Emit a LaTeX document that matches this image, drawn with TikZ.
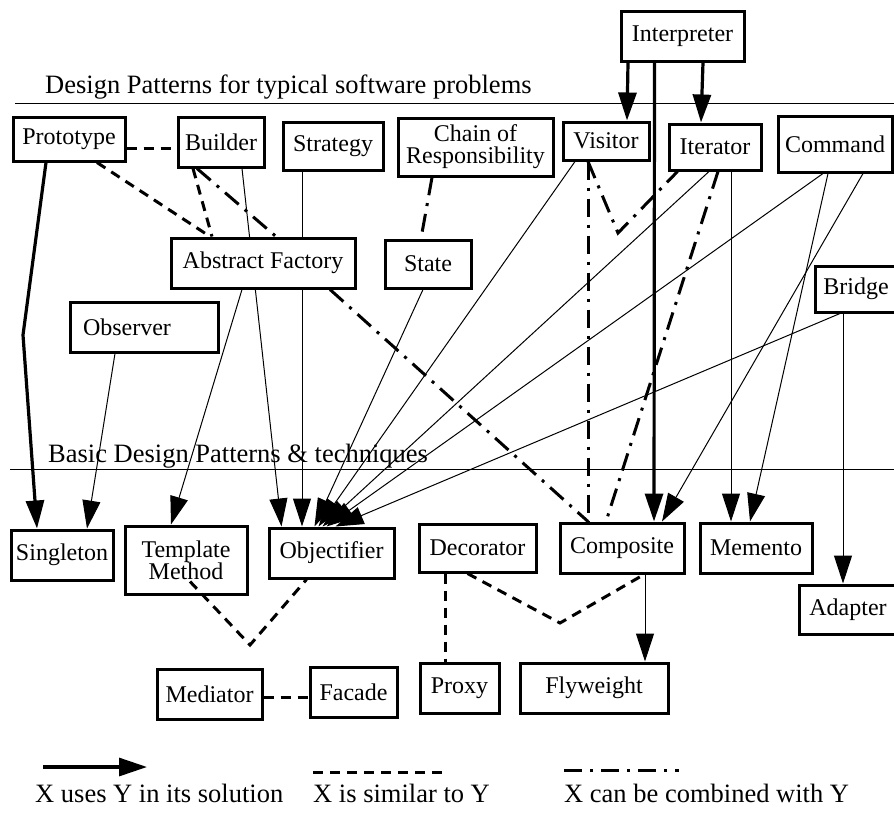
\documentclass[tikz,border=0pt]{standalone}
\usepackage{fontspec}
\setmainfont{Liberation Serif}
\usetikzlibrary{arrows.meta,calc}
\pgfdeclarelayer{bg}
\pgfsetlayers{bg,main}

\begin{document}
\begin{tikzpicture}[x=1pt,y=-1pt,>={Triangle[length=28pt,width=18pt]},
  patbox/.style={draw,line width=3pt,fill=white,align=center,inner sep=2pt,
    font=\fontsize{24}{22}\selectfont},
  usesthin/.style={->,line width=1pt},
  usesthick/.style={->,line width=3.2pt},
  simline/.style={line width=3pt,dash pattern=on 10pt off 7pt},
  combline/.style={line width=3pt,dash pattern=on 18pt off 8pt on 3pt off 8pt},
  sectitle/.style={anchor=base west,inner sep=0pt,font=\fontsize{26.5}{28}\selectfont}]

\useasboundingbox (0,0) rectangle (894,812);

\node[sectitle] (toptitle) at (45,93) {Design Patterns for typical software problems};
\draw[line width=1pt] (15,103) -- (894,103);
\node[sectitle] (basetitle) at (48,462) {Basic Design Patterns \& techniques};
\draw[line width=1pt] (10,469) -- (894,469);

\node[patbox,minimum width=123,minimum height=50] (interp) at (682.5,36) {Interpreter};
\node[patbox,minimum width=112,minimum height=44] (proto) at (69,139) {Prototype};
\node[patbox,minimum width=86,minimum height=50] (build) at (221,142) {Builder};
\node[patbox,minimum width=100,minimum height=48] (strat) at (333,146) {Strategy};
\node[patbox,minimum width=155,minimum height=58] (chain) at (475.5,147) {Chain of\\Responsibility};
\node[patbox,minimum width=86,minimum height=38] (vis) at (606,141) {Visitor};
\node[patbox,minimum width=92,minimum height=46] (iter) at (715,147) {Iterator};
\node[patbox,minimum width=114,minimum height=56] (cmd) at (835,144) {Command};
\node[patbox,minimum width=184,minimum height=50] (absf) at (263,263) {Abstract Factory};
\node[patbox,minimum width=86,minimum height=48] (state) at (428,264) {State};
\node[patbox,text width=122,align=left,inner xsep=13,minimum height=50] (obs) at (144,327) {Observer};
\node[patbox,minimum width=82,minimum height=46] (bridge) at (856,289) {Bridge};

\node[patbox,minimum width=102,minimum height=50] (sing) at (62,555) {Singleton};
\node[patbox,minimum width=122,minimum height=68] (tmeth) at (186,560) {Template\\Method};
\node[patbox,minimum width=125,minimum height=50] (obj) at (331.5,553) {Objectifier};
\node[patbox,minimum width=117,minimum height=48] (deco) at (477.5,548) {Decorator};
\node[patbox,minimum width=124,minimum height=50] (comp) at (622,548) {Composite};
\node[patbox,minimum width=112,minimum height=50] (memo) at (756,548) {Memento};
\node[patbox,minimum width=98,minimum height=49] (adapt) at (848,609.5) {Adapter};
\node[patbox,minimum width=105,minimum height=50] (med) at (209.5,694) {Mediator};
\node[patbox,minimum width=87,minimum height=50] (fac) at (353.5,692) {Facade};
\node[patbox,minimum width=79,minimum height=50] (proxy) at (459.5,688) {Proxy};
\node[patbox,minimum width=148,minimum height=50] (fly) at (594,688) {Flyweight};

\coordinate (protobend) at (23,335);
\coordinate (tmvert) at (250,645);
\coordinate (decovert) at (560,623);
\coordinate (visvert) at (618,233);

\draw[usesthick] ($(interp.south)+(-54.5,0)$) -- ($(vis.north)+(21,0)$);
\draw[usesthick] ($(interp.south)+(20.5,0)$) -- ($(iter.north)+(-14,0)$);
\draw[usesthick] ($(interp.south)+(-28,0)$) -- ($(comp.north)+(32,0)$);
\draw[usesthick] ($(proto.south)+(-23,0)$) -- (protobend) -- ($(sing.north)+(-25,0)$);

\draw[usesthin] ($(obs.south)+(-29,0)$) -- ($(sing.north)+(25,0)$);
\draw[usesthin] ($(absf.south)+(-21,0)$) -- ($(tmeth.north)+(-15,0)$);
\begin{pgfonlayer}{bg}
\draw[usesthin] ($(build.south)+(21,0)$) -- ($(obj.north)+(-50,0)$);
\draw[usesthin] ($(strat.south)+(-31,0)$) -- ($(obj.north)+(-29.5,0)$);
\end{pgfonlayer}
\draw[usesthin] ($(state.south)+(-5,0)$) -- ($(obj.north)+(-17,0)$);
\draw[usesthin] ($(vis.south)+(-31,0)$) -- ($(obj.north)+(-13,0)$);
\draw[usesthin] ($(iter.south)+(-6,0)$) -- ($(obj.north)+(-9,0)$);
\draw[usesthin] ($(cmd.south)+(-12,0)$) -- ($(obj.north)+(-5,0)$);
\draw[usesthin] ($(bridge.south)+(-16,0)$) -- ($(obj.north)+(4,0)$);
\draw[usesthin] ($(cmd.south)+(28,0)$) -- ($(comp.north)+(40,0)$);
\draw[usesthin] ($(cmd.south)+(-7,0)$) -- ($(memo.north)+(-6,0)$);
\draw[usesthin] ($(iter.south)+(16,0)$) -- ($(memo.north)+(-25,0)$);
\draw[usesthin] ($(bridge.south)+(-13,0)$) -- ($(adapt.north)+(-5,0)$);
\draw[usesthin] ($(comp.south)+(23,0)$) -- ($(fly.north)+(51,0)$);

\draw[simline] ($(proto.east)+(0,9)$) -- ($(build.west)+(0,6)$);
\draw[simline] ($(proto.south)+(28,0)$) -- ($(absf.north)+(-53,0)$);
\draw[simline] ($(build.south)+(-28,0)$) -- ($(absf.north)+(-51,0)$);
\draw[simline] ($(tmeth.south)+(4,-14)$) -- (tmvert) -- ($(obj.south)+(-25,0)$);
\draw[simline] ($(med.east)+(0,3)$) -- ($(fac.west)+(0,5)$);
\draw[simline] ($(deco.south)+(-32.5,0)$) -- ($(proxy.north)+(-14.5,0)$);
\draw[simline] ($(deco.south)+(-10,0)$) -- (decovert) -- ($(comp.south)+(22,0)$);

\draw[combline] ($(build.south)+(-24,0)$) -- ($(absf.north)+(13,0)$);
\draw[combline] ($(chain.south)+(-43.5,0)$) -- ($(state.north)+(-7,0)$);
\draw[combline] ($(absf.south)+(67,0)$) -- ($(comp.north)+(-34,0)$);
\draw[combline] ($(vis.south)+(-18,0)$) -- ($(comp.north)+(-34,0)$);
\draw[combline] ($(vis.south)+(-18,0)$) -- (visvert) -- ($(iter.south west)+(10,0)$);
\draw[combline] ($(iter.south)+(3,0)$) -- ($(comp.north)+(-16,0)$);

\coordinate (legusesA) at (43,767);
\coordinate (legusesB) at (147,767);
\coordinate (legsimA) at (313,772);
\coordinate (legsimB) at (448,772);
\coordinate (legcombA) at (564,770);
\coordinate (legcombB) at (679,770);
\draw[usesthick] (legusesA) -- (legusesB);
\draw[simline] (legsimA) -- (legsimB);
\draw[combline] (legcombA) -- (legcombB);
\node[sectitle] (leguses) at (35,802) {X uses Y in its solution};
\node[sectitle] (legsim) at (313,802) {X is similar to Y};
\node[sectitle] (legcomb) at (564,802) {X can be combined with Y};

\end{tikzpicture}
\end{document}
